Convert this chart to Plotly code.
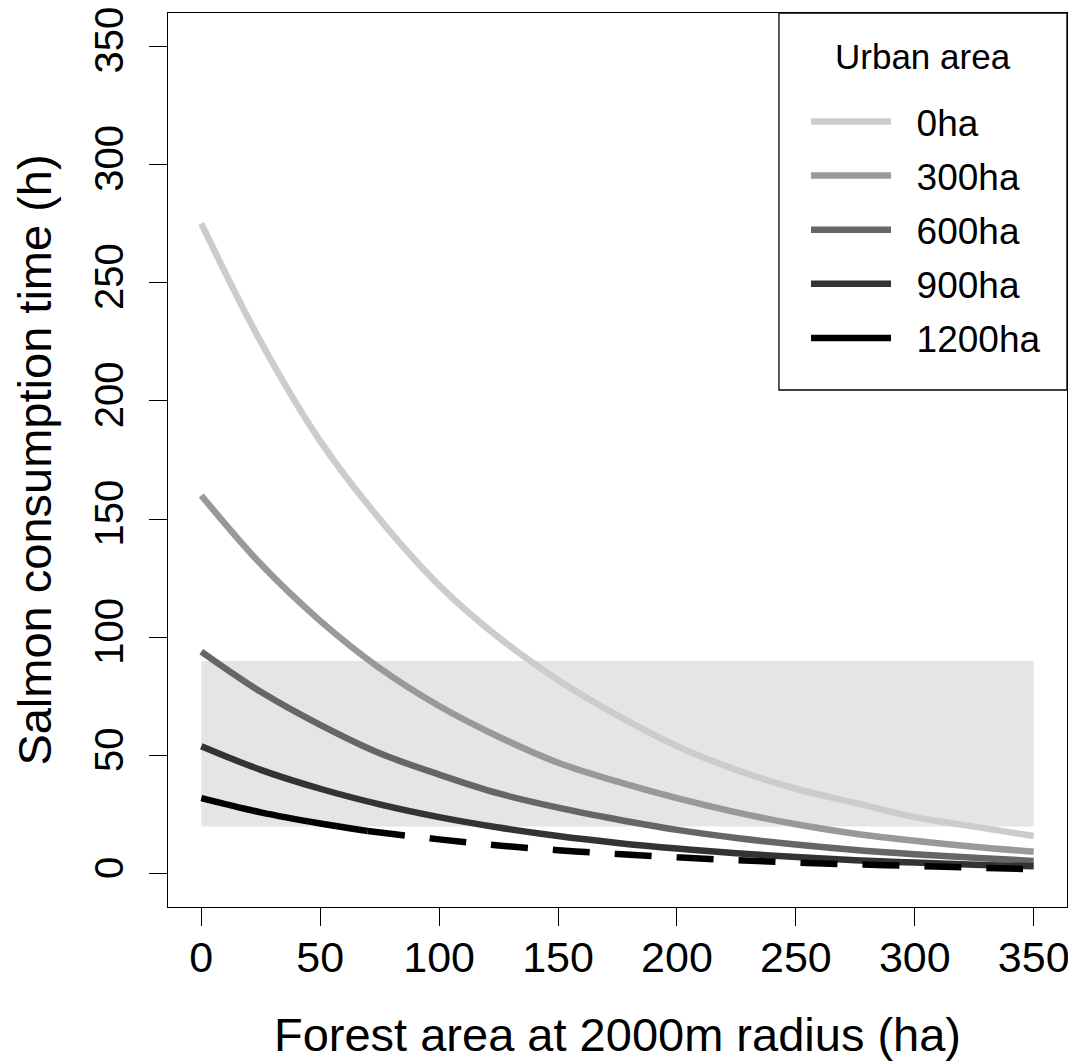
import plotly.graph_objects as go

# Data
forest_x = [0, 25, 50, 75, 100, 125, 150, 175, 200, 225, 250, 275, 300, 325, 350]
urban_0 = [275, 225, 183, 150, 122, 100, 82, 67, 54, 44, 36, 30, 24, 20, 16]
urban_300 = [160, 131, 107, 87, 71, 58, 47, 39, 32, 26, 21, 17, 14, 11.5, 9.4]
urban_600 = [94, 77, 63, 51, 42, 34, 28, 23, 18.6, 15.2, 12.4, 10.1, 8.3, 6.8, 5.5]
urban_900 = [54, 44, 36, 29.4, 24, 19.6, 16, 13.1, 10.7, 8.7, 7.1, 5.8, 4.8, 3.9, 3.2]
urban_1200_solid_x = [0, 25, 50, 70]
urban_1200_solid = [32, 26, 21.3, 18.1]
urban_1200_dash_x = [70, 100, 125, 150, 175, 200, 225, 250, 275, 300, 325, 350]
urban_1200_dash = [18.1, 14.6, 12.0, 10.0, 8.4, 7.0, 5.8, 4.8, 4.0, 3.4, 2.6, 2.0]

band_x = [0, 350]
band_low = 20
band_high = 90

labels = ["0ha", "300ha", "600ha", "900ha", "1200ha"]
colors = ["#CCCCCC", "#999999", "#666666", "#333333", "#000000"]
ticks = [0, 50, 100, 150, 200, 250, 300, 350]

FONT = "Liberation Sans, Arial, sans-serif"
LW = 6.5
PAD = "\u00a0\u00a0"

fig = go.Figure()

# grey reference band
fig.add_trace(go.Scatter(
    x=[band_x[0], band_x[1], band_x[1], band_x[0], band_x[0]],
    y=[band_low, band_low, band_high, band_high, band_low],
    fill="toself", fillcolor="#E5E5E5", line=dict(width=0),
    mode="lines", showlegend=False, hoverinfo="skip"))

series = [urban_0, urban_300, urban_600, urban_900]
for i, (lab, col, ys) in enumerate(zip(labels[:4], colors[:4], series)):
    fig.add_trace(go.Scatter(
        x=forest_x, y=ys, mode="lines", name=PAD + lab, legendgroup=f"g{i}",
        line=dict(color=col, width=LW, shape="spline", smoothing=1)))

fig.add_trace(go.Scatter(
    x=urban_1200_solid_x, y=urban_1200_solid, mode="lines", name=PAD + labels[4],
    legendgroup="g4",
    line=dict(color=colors[4], width=LW, shape="spline", smoothing=1)))
fig.add_trace(go.Scatter(
    x=urban_1200_dash_x, y=urban_1200_dash, mode="lines", name=PAD + labels[4],
    legendgroup="g4", showlegend=False,
    line=dict(color=colors[4], width=LW, shape="spline", smoothing=1, dash="37px,25px")))

axis_common = dict(
    range=[-14, 364], tickmode="array", tickvals=ticks,
    ticktext=[str(t) for t in ticks],
    showgrid=False, zeroline=False, automargin=False,
    showline=True, linecolor="black", linewidth=1.3, mirror=True,
    ticks="outside", ticklen=18, tickwidth=1.3, tickcolor="black",
    ticklabeloverflow="allow",
)

fig.update_layout(
    width=1068, height=1053,
    margin=dict(l=160, r=9, t=5, b=154),
    paper_bgcolor="white", plot_bgcolor="white",
    font=dict(family=FONT, color="black"),
    xaxis=dict(**axis_common, ticklabelstandoff=-6,
               tickfont=dict(family=FONT, size=43, color="black"),
               title=dict(text="Forest area at 2000m radius (ha)",
                          font=dict(family=FONT, size=47, color="black"), standoff=38)),
    yaxis=dict(**axis_common, tickangle=-90, ticklabelstandoff=10,
               tickfont=dict(family=FONT, size=40, color="black"),
               title=dict(text="Salmon consumption time (h)",
                          font=dict(family=FONT, size=47, color="black"), standoff=21)),
    legend=dict(
        x=0.7097, y=0.9128, xanchor="left", yanchor="top",
        bgcolor="rgba(0,0,0,0)", borderwidth=0,
        font=dict(family=FONT, size=37, color="black"),
        itemwidth=80, tracegroupgap=3,
    ),
    shapes=[dict(type="rect", xref="paper", yref="paper",
                 x0=0.6796, x1=1, y0=0.5783, y1=1,
                 line=dict(color="black", width=1.3), fillcolor="white", layer="below")],
    annotations=[dict(text="Urban area", xref="paper", yref="paper",
                      x=0.8398, y=0.9508, xanchor="center", yanchor="middle",
                      showarrow=False, font=dict(family=FONT, size=35, color="black"))],
)

fig.write_html("out.html")
